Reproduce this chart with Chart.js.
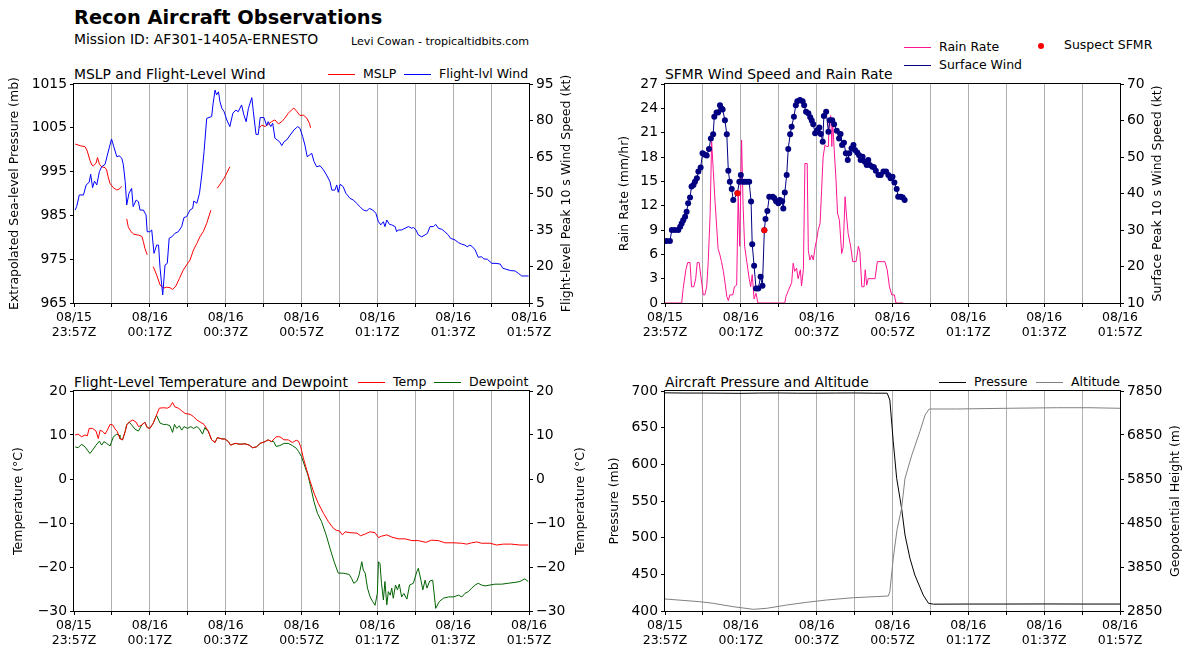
<!DOCTYPE html>
<html>
<head>
<meta charset="utf-8">
<title>Recon Aircraft Observations</title>
<script src="https://cdn.jsdelivr.net/npm/chart.js@4.4.1/dist/chart.umd.min.js"></script>
<style>
  html, body { margin: 0; padding: 0; background: #fff; }
  body { position: relative; width: 1193px; height: 659px; overflow: hidden;
         font-family: "DejaVu Sans", sans-serif; color: #000; }
  .txt { position: absolute; white-space: nowrap; }
  canvas { position: absolute; }
  .key { position: absolute; font-size: 12.5px; line-height: 14px; white-space: nowrap; }
  .key i { display: inline-block; width: 27px; height: 1px; vertical-align: middle; margin-right: 8px; }
  .key b { display: inline-block; width: 6px; height: 6px; border-radius: 50%; background: #f00; vertical-align: middle; }
</style>
</head>
<body>

<div class="txt" style="left:74px;top:6px;font-size:19.4px;font-weight:bold;line-height:24px">Recon Aircraft Observations</div>
<div class="txt" style="left:74px;top:31px;font-size:13.9px;line-height:16px">Mission ID: AF301-1405A-ERNESTO</div>
<div class="txt" style="left:351px;top:35px;font-size:11.1px;line-height:13px">Levi Cowan - tropicaltidbits.com</div>

<div class="txt" style="left:74px;top:66px;font-size:13.9px;line-height:16px">MSLP and Flight-Level Wind</div>
<div class="txt" style="left:665px;top:66px;font-size:13.9px;line-height:16px">SFMR Wind Speed and Rain Rate</div>
<div class="txt" style="left:74px;top:374px;font-size:13.9px;line-height:16px">Flight-Level Temperature and Dewpoint</div>
<div class="txt" style="left:665px;top:374px;font-size:13.9px;line-height:16px">Aircraft Pressure and Altitude</div>

<div class="key" style="left:328px;top:67px"><i style="background:#ff0000"></i>MSLP</div>
<div class="key" style="left:404px;top:67px"><i style="background:#0000ff"></i>Flight-lvl Wind</div>
<div class="key" style="left:904px;top:40px"><i style="background:#ff1493"></i>Rain Rate</div>
<div class="key" style="left:904px;top:58px"><i style="background:#000080"></i>Surface Wind</div>
<div class="key" style="left:1038px;top:38px"><b></b><span style="margin-left:20px">Suspect SFMR</span></div>
<div class="key" style="left:358px;top:375px"><i style="background:#ff0000"></i>Temp</div>
<div class="key" style="left:434px;top:375px"><i style="background:#006400"></i>Dewpoint</div>
<div class="key" style="left:939px;top:375px"><i style="background:#000000"></i>Pressure</div>
<div class="key" style="left:1036px;top:375px"><i style="background:#808080"></i>Altitude</div>

<canvas id="cMslp" width="596" height="274" style="left:0;top:74px"></canvas>
<canvas id="cSfmr" width="596" height="274" style="left:591px;top:74px"></canvas>
<canvas id="cTemp" width="596" height="275" style="left:0;top:381px"></canvas>
<canvas id="cAlt" width="596" height="275" style="left:591px;top:381px"></canvas>

<script>
// minutes after 08/15 23:57Z
const tickLabels = [
  ['08/15', '23:57Z'], ['08/16', '00:17Z'], ['08/16', '00:37Z'], ['08/16', '00:57Z'],
  ['08/16', '01:17Z'], ['08/16', '01:37Z'], ['08/16', '01:57Z']
];

// ---- MSLP (mb), gaps are null
const mslpMin = [0.3,1.6,2.9,3.4,3.8,4.2,4.7,5.1,5.8,6.2,6.7,7.3,8.2,8.6,9.0,9.5,10.4,11.3,11.9,12.6,
  13.2, 13.9,14.3,15.0,15.8,17.0,17.9,18.3,18.7,19.3,
  20.1, 20.9,21.8,22.7,23.6,24.4,25.3,26.0,26.9,27.8,28.8,29.7,30.6,31.5,32.4,33.2,34.1,35.0,36.1,
  37.0, 37.8,39.0,39.8,41.1,
  45.0, 48.9,49.5,50.4,51.2,52.1,53.0,53.9,54.8,55.6,56.5,57.4,58.0,58.7,59.6,60.5,61.4,62.1,62.4];
const mslpMb = [1001.3,1000.9,1000.7,999.9,998.8,997.6,996.5,996.3,996.9,998.2,996.7,996.1,995.9,995.4,993.8,992.3,991.3,990.8,991.0,991.6,
  null, 984.2,982.4,981.3,980.7,980.5,980.2,979.0,977.5,976.0,
  null, 973.3,971.4,969.1,968.4,968.6,968.5,968.1,968.9,970.6,972.5,973.7,974.8,977.1,978.6,980.1,981.3,983.2,986.2,
  null, 991.2,992.7,993.8,996.1,
  null, 1005.0,1005.6,1005.3,1005.8,1006.4,1006.8,1005.9,1006.4,1007.2,1008.3,1009.1,1009.5,1008.8,1007.8,1007.9,1007.2,1006.0,1005.0];

// ---- flight-level wind (kt)
const windMin = [0.3,0.7,1.4,2.5,3.2,4.0,4.4,4.9,5.4,6.0,6.7,7.3,8.2,8.8,9.3,9.9,10.5,11.3,11.9,12.6,
  13.0,13.5,13.9,14.5,15.2,15.6,16.4,17.0,17.4,18.3,19.0,19.3,20.0,20.5,21.1,21.8,22.3,22.7,23.4,24.0,
  24.6,25.1,25.8,26.6,27.5,28.4,29.0,29.7,30.6,31.3,31.6,32.4,33.1,33.7,34.3,35.0,36.3,36.7,37.2,37.6,
  38.1,38.5,39.0,39.6,40.3,41.1,41.9,42.7,43.3,44.2,44.8,45.4,46.0,46.9,47.3,48.0,48.6,49.1,50.1,50.8,
  51.2,51.9,52.4,53.0,53.6,54.2,54.8,55.4,56.1,57.0,58.0,59.0,59.6,60.3,60.9,61.5,62.1,62.7,63.3,64.0,
  64.9,65.8,66.6,67.5,68.0,68.8,69.3,69.7,70.2,71.0,71.7,72.8,73.7,74.5,75.4,76.3,77.2,77.9,78.8,79.6,
  80.3,80.9,81.6,82.0,82.5,83.2,83.8,84.7,85.1,85.5,86.4,87.3,88.2,89.1,89.5,90.2,90.8,91.7,92.6,93.2,
  93.9,94.8,95.4,96.1,97.0,97.8,98.7,99.3,100.5,101.4,102.2,103.1,103.7,104.4,105.1,105.8,106.6,107.5,108.1,109.0,
  110.2,111.3,112.4,113.1,113.9,115.2,116.3,117.2,118.1,119.9];
const windKt = [43.2,44.6,49.4,49.4,53.5,54.6,57.9,52.4,55.1,53.5,59.0,61.0,62.0,65.8,68.8,72.4,69.2,65.1,65.5,64.5,
  62.0,54.9,45.3,50.1,52.1,44.6,47.3,46.6,43.2,43.2,41.2,34.3,34.3,35.0,25.4,28.8,28.8,19.3,8.3,20.6,
  21.3,31.6,32.2,33.6,34.3,36.4,40.1,40.5,43.2,43.9,46.9,46.0,50.1,57.6,67.2,80.9,81.6,87.1,92.5,90.5,
  91.8,87.7,85.0,83.6,80.2,77.5,83.0,84.3,83.6,86.4,82.3,79.5,85.0,89.4,83.6,74.3,74.3,81.2,81.2,77.9,
  79.5,77.5,78.9,72.7,72.0,71.3,69.7,71.3,72.0,74.0,76.1,77.5,76.8,73.4,69.9,65.1,65.8,66.5,63.1,61.0,
  61.4,59.7,57.6,54.9,51.4,51.4,53.5,50.5,53.8,52.8,50.1,48.0,47.3,46.0,44.6,43.2,42.8,43.9,43.2,41.9,
  38.4,37.1,38.4,36.4,39.1,37.3,37.1,36.4,34.3,35.0,35.0,35.7,36.4,35.7,36.1,35.0,33.0,32.2,33.0,33.6,
  36.4,36.4,37.3,35.7,35.3,34.3,33.0,31.6,30.9,29.8,29.2,28.8,28.1,28.8,28.1,26.8,23.8,24.0,23.1,23.0,
  21.3,21.3,21.0,19.3,18.9,18.3,18.2,17.2,16.1,16.1];

// ---- SFMR surface wind (kt)
const sfmrMin = [0.4,1.3,1.8,2.6,3.5,4.0,4.4,4.8,5.3,5.7,6.1,6.6,7.0,7.5,7.9,8.4,8.8,9.4,9.9,10.4,
  11.0,11.6,12.1,12.7,13.0,13.6,14.0,14.5,14.9,15.2,15.8,16.3,16.7,17.1,17.6,18.0,19.1,19.6,20.0,20.5,
  21.0,21.6,22.2,22.7,23.0,23.5,24.0,24.6,25.2,25.7,26.2,26.5,27.0,27.5,28.4,28.8,29.3,29.9,30.3,30.9,
  31.2,31.6,32.1,32.5,33.0,33.4,34.0,34.5,34.9,35.6,36.3,36.7,37.2,37.8,38.3,38.7,39.1,39.6,40.2,40.7,
  41.1,41.6,41.9,42.5,43.1,43.5,44.1,44.6,45.3,45.9,46.3,46.7,47.2,47.7,48.2,48.6,49.2,49.7,50.1,50.7,
  51.2,51.6,52.1,52.7,53.2,53.6,54.0,54.7,55.1,55.6,56.3,56.9,57.6,58.3,58.9,59.5,60.0,60.5,61.1,61.5,
  62.2,62.7,63.2];
const sfmrKt = [27,27,30,30,30,30.9,31.8,32.7,33.6,35,37.3,38.9,41.9,42.3,43.2,44.2,46,47.1,51,50.7,
  50.4,52.2,55.1,56.2,61,62.2,62.2,64.2,63.3,63,60.1,56.2,46.2,43.2,41.2,38.2,40.1,43.2,45.1,43.2,
  43.2,43.2,43.2,37.8,26.1,20.2,14,14,17.2,14.7,29.9,33,35.2,39.1,39.1,38.8,37.9,37.3,38.2,37.9,
  35.9,40.3,45.1,52.2,56.2,58.3,61,64.2,65.3,65.6,65.3,64.2,62.4,62,60.9,60,59,56.5,57.4,58.1,
  56.3,54.2,61.2,62.4,56.9,60.1,60.1,59,57.2,55.1,56.3,53.3,53.9,51,49.2,51,52.4,53.3,51.9,51.2,
  50.5,49.2,50.1,48.7,47.8,49.2,47.8,47.3,47.2,46.2,45.1,45.1,46,46,45.1,44.2,44.6,43,41.2,39.1,
  39.1,38.9,38.2];
const suspectMin = [19.1, 26.2];
const suspectKt = [40.1, 29.9];

// ---- rain rate (mm/hr)
const rainMin = [0,4.4,4.8,5.5,6.0,6.6,7.0,7.6,8.1,8.5,9.0,9.7,10.1,10.5,11.0,11.4,11.9,12.3,12.7,13.2,
  13.6,14.0,14.5,14.9,15.4,15.8,16.3,16.7,17.1,17.9,18.3,18.9,19.3,19.7,20.2,20.6,21.0,21.6,22.2,22.6,
  23.0,23.5,24.0,24.5,31.6,31.9,32.5,33.4,33.8,34.2,34.7,35.1,35.7,36.0,36.5,36.9,37.5,37.8,38.2,38.7,
  39.1,39.6,40.0,40.4,40.9,41.3,41.7,42.2,42.6,43.1,43.3,43.7,44.0,44.2,44.6,45.1,45.5,46.0,46.6,47.0,
  47.5,47.9,48.3,49.0,49.5,50.4,51.0,51.4,51.9,52.5,52.8,53.2,53.6,55.4,56.0,58.0,58.6,59.2,59.8,60.5,
  60.9,62.8];
const rainMm = [0,0,1.8,4.1,5,5,2,2,3,5,5,2.4,1,1,2,5.1,10.9,19.9,16.6,12.5,
  9.6,6.7,5.9,5.1,3.9,2.6,0.8,0.3,1,1,2,2.2,13.3,7,20.1,12,7,5,3,2,
  3.5,0.5,1.2,0,0,0.8,1.5,2.5,4.9,3.9,4.3,3,4.1,2.1,4.1,17.2,17.2,6.5,5.3,5.9,
  5.3,6.9,7.8,9,9.8,13.9,18,19.5,19.3,19.3,22.4,23.1,19.3,22.6,19.1,15.2,11.1,10.2,6.1,6.9,
  13.1,10.6,8.6,6.9,5.1,5.1,7,6.3,2,2,4.1,2.2,3,3,5.1,5.1,4.1,2,1,1,
  0,0];

// ---- flight-level temperature / dewpoint (C)
const tempMin = [0.3,1.1,2.0,2.9,3.5,4.0,4.9,5.8,6.4,6.9,7.6,8.2,8.8,9.5,10.2,10.8,11.4,12.1,12.8,13.5,
  13.9,14.6,15.5,16.4,17.0,17.9,18.7,19.3,20.0,20.9,21.6,22.5,23.6,24.6,25.3,26.0,26.6,27.5,28.4,29.3,
  30.6,31.5,32.4,33.2,34.3,35.4,36.3,37.2,37.8,39.0,39.8,40.7,41.3,42.5,43.8,45.1,46.2,47.1,48.1,49.1,
  50.4,51.2,52.1,53.3,54.3,55.4,56.5,57.6,58.6,59.2,59.8,60.5,61.4,62.3,63.3,64.4,65.8,67.1,68.4,69.3,
  70.0,70.8,71.5,72.8,74.6,75.6,76.8,78.1,79.4,80.3,81.1,82.5,83.8,85.5,87.3,89.1,90.8,92.8,94.3,96.1,
  97.8,100.0,102.2,103.6,104.9,106.2,107.5,109.7,111.5,113.2,115.4,117.6,119.8];
const tempC = [10,10.2,9.6,10,9.8,11.5,11.5,10.9,9.2,11.1,10.8,10.2,11.1,12.4,12.3,11.4,10.8,9.2,8.9,10.8,
  12.3,13,13.4,12.9,11.9,12.3,12.9,11.7,11.5,12.7,14.2,16.1,16.2,16.1,16.4,17.4,16.4,16.1,15.5,14.9,
  14.7,14.2,13.4,13,12.4,10.9,8.9,8.3,9.4,9.1,9.1,8.5,7.7,8.1,7.9,8,7.7,7.1,7.3,8.1,
  8.5,8.9,8.5,9.6,9.6,8.9,8.9,8.3,8.8,8.6,7.3,4.7,2.0,-0.6,-3.2,-5.5,-7.8,-9.7,-11.2,-11.7,
  -11.8,-12.7,-12,-12.2,-12.3,-12.9,-12.5,-12,-12.2,-13.3,-13,-12.7,-13.2,-13.6,-13.6,-14,-14,-14.4,-13.9,-14,
  -14.5,-14.5,-14.6,-14.8,-14.5,-14.3,-14.6,-14.6,-15,-14.8,-14.8,-15,-15];
const dewMin = [0.3,1.1,2.0,2.9,3.5,4.2,5.1,5.8,6.7,7.3,7.9,8.6,9.5,10.4,11.3,11.9,12.1,12.8,13.5,13.9,
  14.6,15.2,16.1,17.0,17.9,18.7,19.3,20.0,20.9,21.6,21.8,22.7,23.6,24.4,25.3,26.0,26.5,27.1,27.8,28.4,
  29.0,29.9,30.8,31.5,32.4,33.0,33.9,34.5,35.0,35.4,36.3,37.2,37.8,39.0,39.8,40.7,41.3,42.5,43.8,45.1,
  46.2,47.1,48.1,49.1,50.4,51.2,52.1,52.6,53.3,54.3,55.4,56.5,57.6,58.6,59.2,60.0,60.9,61.7,62.4,63.3,
  64.2,65.3,66.5,67.5,68.6,69.7,71.0,72.6,73.2,73.8,74.6,75.2,75.9,76.3,76.8,77.4,78.1,78.8,79.4,80.0,
  80.3,80.7,81.1,81.6,82.0,82.5,82.9,83.4,83.8,84.2,84.8,85.3,85.8,86.4,87.0,87.8,88.5,89.5,90.4,90.8,
  91.5,92.0,92.6,93.1,93.8,94.6,95.4,96.3,97.4,98.8,100.1,101.4,102.3,103.1,104.0,104.9,105.8,106.6,107.5,108.4,
  109.7,111.0,112.8,114.5,116.3,117.6,118.9,119.8];
const dewC = [7.3,7.1,7.9,7.3,6.6,5.8,6.8,7.7,8.6,7.7,8.5,8.1,7.5,9.6,10.2,10,9.2,8.9,10.8,12.3,
  12.9,12.3,11.3,10.9,12.3,12.9,11.7,11.5,12.7,14.2,14.4,12.7,12.4,12.4,12.1,10.6,12.4,11.5,12.1,11.1,
  11.9,11.5,11.9,11.5,11.9,11.5,10.2,11.7,11.1,10.9,8.9,8.3,9.4,9.1,9.1,8.5,7.7,8.1,7.9,8,
  7.7,7.1,7.3,8.1,8.5,8.9,8.5,8.6,7.4,7.6,8.1,8.1,7.6,7.0,6.3,5.1,2.8,0.9,-1.7,-5.2,
  -7.8,-9.7,-12.7,-15.7,-18.8,-21.4,-21.4,-21.7,-22.6,-23.7,-23.2,-21.8,-18.8,-20.7,-21.4,-24.8,-26.8,-27.9,-28.7,-26,
  -18.8,-19.2,-23.7,-27.5,-23.3,-28.6,-25.6,-26.4,-24.8,-27.1,-24.1,-25.2,-23.9,-26.8,-26,-27.3,-24.1,-23.7,-21.1,-20.3,
  -23,-25.2,-23,-24.8,-23.2,-23,-29.4,-27.9,-27.1,-26.8,-26.8,-26.4,-26.8,-26,-25.6,-24.8,-24.1,-23.7,-24.1,-24.3,
  -24.1,-23.9,-23.9,-23.7,-23.5,-23.3,-22.7,-23.3];

// ---- aircraft pressure (mb) and geopotential height (m)
const presMin = [0,5,10,15,20,25,30,35,40,45,50,55,58.6,59.3,60.2,61.1,62.4,63.3,64.6,65.9,68.1,69.5,70.8,80,90,100,110,120];
const presMb = [697.5,697.2,697.2,697.0,696.8,697.2,697.3,697.0,697.0,697.2,697.3,697.0,697.0,687.7,630.9,581,540,503.6,471.8,449,421.8,410.5,409.3,409.5,409.5,409.6,409.5,409.5];
const altMin = [0,9.2,12.7,18,23.3,26.8,32.1,37.4,42.6,49.7,58.9,59.3,60.2,61.2,62.4,63.3,65.1,67.2,68.6,69.7,76.9,90.1,103.3,112.1,120];
const altM = [3123,3061,3025,2948,2888,2911,2986,3048,3100,3152,3191,3289,4050,4700,5184,5866,6395,6925,7305,7441,7441,7457,7470,7470,7457];

// ------------------------------------------------------------------
Chart.defaults.font.family = 'DejaVu Sans';
Chart.defaults.color = '#000';

const pts = (xs, ys) => xs.map((x, i) => ({ x: x, y: ys[i] }));

function timeScale() {
  return {
    type: 'linear', min: 0, max: 120,
    afterFit: s => { s.height = 45; },
    ticks: {
      stepSize: 10, autoSkip: false, maxRotation: 0, padding: 3,
      font: { size: 12.5, lineHeight: 1.2 },
      callback: v => (v % 20 === 0 ? tickLabels[v / 20] : '')
    },
    grid: {
      color: c => (c.tick && c.tick.value > 0 && c.tick.value < 120 ? '#b0b0b0' : 'rgba(0,0,0,0)'),
      tickColor: '#000', tickLength: 4, lineWidth: 1
    },
    border: { display: false }
  };
}

function valueScale(pos, min, max, step, width) {
  return {
    type: 'linear', position: pos, min: min, max: max,
    // fixed width, and no extra room for the end labels (the canvas already has it)
    afterFit: s => { s.width = width; s.paddingTop = 0; s.paddingBottom = 0; },
    ticks: {
      stepSize: step, padding: 3, font: { size: 13.9 },
      callback: v => String(v).replace('-', '\u2212')
    },
    grid: { drawOnChartArea: false, tickColor: '#000', tickLength: 4 },
    border: { display: false }
  };
}

// box around the plot area plus the rotated axis titles
const framePlugin = {
  id: 'frame',
  afterDatasetsDraw(chart, args, opts) {
    const ctx = chart.ctx, a = chart.chartArea;
    ctx.save();
    ctx.strokeStyle = '#000';
    ctx.lineWidth = 1;
    ctx.strokeRect(Math.round(a.left) - 0.5, Math.round(a.top) - 0.5,
                   Math.round(a.right - a.left) + 1, Math.round(a.bottom - a.top) + 1);
    ctx.fillStyle = '#000';
    ctx.font = '12.5px "DejaVu Sans"';
    ctx.textAlign = 'center';
    ctx.textBaseline = 'middle';
    const cy = (a.top + a.bottom) / 2;
    [opts.left, opts.right].forEach(t => {
      if (!t) return;
      ctx.save();
      ctx.translate(t.x, cy);
      ctx.rotate(-Math.PI / 2);
      ctx.fillText(t.text, 0, 0);
      ctx.restore();
    });
    ctx.restore();
  }
};

function line(data, axis, color, order) {
  return { data: data, yAxisID: axis, borderColor: color, backgroundColor: color,
           borderWidth: 1, pointRadius: 0, tension: 0, spanGaps: false, fill: false, order: order };
}

function makePanel(id, datasets, left, right, titles) {
  return new Chart(document.getElementById(id), {
    type: 'line',
    data: { datasets: datasets },
    options: {
      responsive: false, animation: false, devicePixelRatio: 1,
      layout: { padding: { top: 10, left: 0, right: 0, bottom: 0 } },
      plugins: { legend: { display: false }, tooltip: { enabled: false }, frame: titles },
      scales: {
        x: timeScale(),
        y: valueScale('left', left[0], left[1], left[2], 74),
        y1: valueScale('right', right[0], right[1], right[2], 67)
      }
    },
    plugins: [framePlugin]
  });
}

makePanel('cMslp', [
  line(pts(windMin, windKt), 'y1', '#0000ff', 0),
  line(pts(mslpMin, mslpMb), 'y', '#ff0000', 1)
], [965, 1015, 10], [5, 95, 15], {
  left: { text: 'Extrapolated Sea-level Pressure (mb)', x: 15 },
  right: { text: 'Flight-level Peak 10 s Wind Speed (kt)', x: 567 }
});

const surface = line(pts(sfmrMin, sfmrKt), 'y1', '#000080', 1);
surface.pointRadius = 3;
surface.pointBorderWidth = 0;
const suspect = line(pts(suspectMin, suspectKt), 'y1', '#ff0000', 0);
suspect.showLine = false;
suspect.pointRadius = 3;
suspect.pointBorderWidth = 0;

makePanel('cSfmr', [
  suspect,
  surface,
  line(pts(rainMin, rainMm), 'y', '#ff1493', 2)
], [0, 27, 3], [10, 70, 10], {
  left: { text: 'Rain Rate (mm/hr)', x: 34 },
  right: { text: 'Surface Peak 10 s Wind Speed (kt)', x: 567 }
});

makePanel('cTemp', [
  line(pts(tempMin, tempC), 'y', '#ff0000', 0),
  line(pts(dewMin, dewC), 'y', '#006400', 1)
], [-30, 20, 10], [-30, 20, 10], {
  left: { text: 'Temperature (\u00b0C)', x: 19 },
  right: { text: 'Temperature (\u00b0C)', x: 581 }
});

makePanel('cAlt', [
  line(pts(altMin, altM), 'y1', '#808080', 0),
  line(pts(presMin, presMb), 'y', '#000000', 1)
], [400, 700, 50], [2850, 7850, 1000], {
  left: { text: 'Pressure (mb)', x: 24 },
  right: { text: 'Geopotential Height (m)', x: 585 }
});
</script>
</body>
</html>
